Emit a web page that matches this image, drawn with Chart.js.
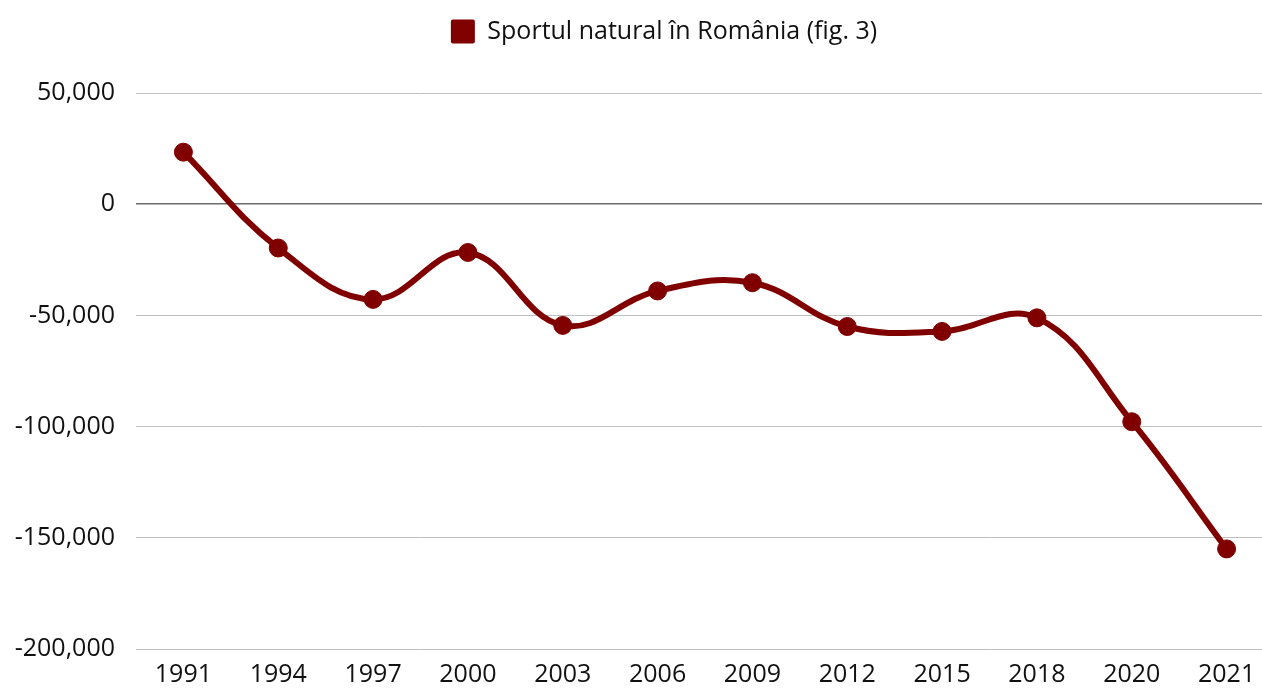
<!DOCTYPE html>
<html>
<head>
<meta charset="utf-8">
<script src="https://cdn.jsdelivr.net/npm/chart.js@4"></script>
<style>
html,body{margin:0;padding:0;background:#fff;overflow:hidden;}
#wrap{width:1284px;height:688px;}
</style>
</head>
<body>
<div id="wrap"><canvas id="c" width="1284" height="688"></canvas></div>
<script>
const categories = ['1991','1994','1997','2000','2003','2006','2009','2012','2015','2018','2020','2021'];
const seriesLabel = 'Sportul natural în România (fig. 3)';
const seriesValues = [23400, -19700, -42800, -21700, -54500, -39000, -35300, -55000, -57200, -51100, -97800, -155000];
const yTicks = [50000, 0, -50000, -100000, -150000, -200000];

const FONT = '"Open Sans", "Noto Sans", sans-serif';
const MAROON = '#800000';

const shiftLegend = {
  id: 'shiftLegend',
  afterLayout(chart) {
    const lg = chart.legend;
    if (lg) { lg.left += 22; lg.right += 22; lg.top -= 39; lg.bottom -= 39; }
  }
};

new Chart(document.getElementById('c'), {
  type: 'line',
  data: {
    labels: categories,
    datasets: [{
      label: seriesLabel,
      data: seriesValues,
      borderColor: MAROON,
      backgroundColor: MAROON,
      borderWidth: 6,
      tension: 0.4,
      pointRadius: 9,
      pointBorderWidth: 1,
      pointBackgroundColor: MAROON,
      pointBorderColor: MAROON,
      fill: false
    }]
  },
  options: {
    responsive: false,
    animation: false,
    layout: { padding: { top: 36, right: 0, left: 0, bottom: 0 } },
    plugins: {
      legend: {
        position: 'top',
        labels: {
          font: { family: FONT, size: 25 },
          color: '#111',
          boxWidth: 24,
          boxHeight: 24,
          padding: 22,
          useBorderRadius: true,
          borderRadius: 2,
          generateLabels(chart) {
            const items = Chart.defaults.plugins.legend.labels.generateLabels(chart);
            items.forEach(it => { it.lineWidth = 0; it.strokeStyle = 'rgba(0,0,0,0)'; });
            return items;
          }
        }
      },
      tooltip: { enabled: false }
    },
    scales: {
      x: {
        type: 'category',
        offset: true,
        grid: { display: false, drawTicks: false },
        border: { display: false },
        ticks: {
          font: { family: FONT, size: 25 },
          color: '#111',
          padding: 11,
          maxRotation: 0,
          autoSkip: false
        },
        afterFit(scale) { scale.height = 39; }
      },
      y: {
        min: -200000,
        max: 50000,
        afterBuildTicks(scale) { scale.ticks = yTicks.map(v => ({ value: v })); },
        grid: {
          drawTicks: false,
          color: ctx => (ctx.tick && ctx.tick.value === 0) ? '#6b6b6b' : '#c0c0c0',
          lineWidth: ctx => (ctx.tick && ctx.tick.value === 0) ? 1.5 : 1
        },
        border: { display: false },
        ticks: {
          font: { family: FONT, size: 25 },
          color: '#111',
          padding: 21,
          callback: v => v.toLocaleString('en-US')
        },
        afterFit(scale) { scale.width = 136; }
      }
    }
  },
  plugins: [shiftLegend]
});
</script>
</body>
</html>
